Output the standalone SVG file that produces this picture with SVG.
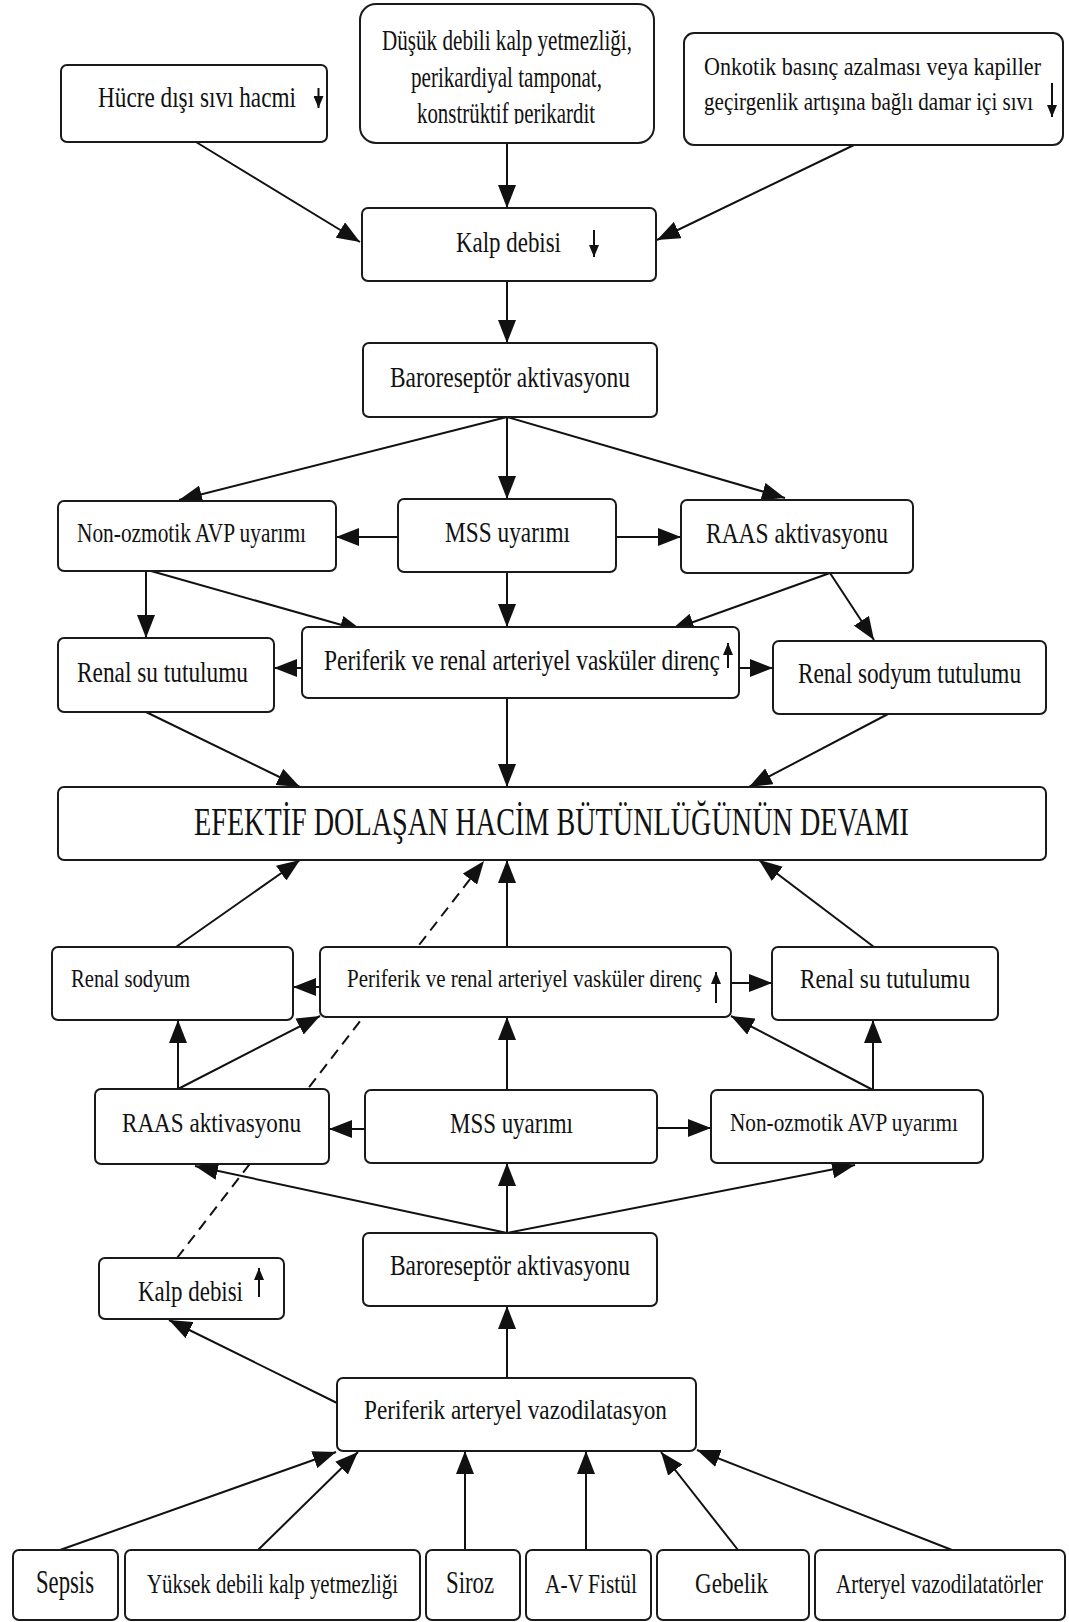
<svg xmlns="http://www.w3.org/2000/svg" width="1069" height="1622" viewBox="0 0 1069 1622">
<style>
.box{fill:#fff;stroke:#1a1a1a;stroke-width:2}
.t{font-family:"Liberation Serif","Times New Roman",serif;fill:#111}
.c{fill:none;stroke:#111;stroke-width:2;marker-end:url(#ah)}
.d{fill:none;stroke:#111;stroke-width:2;stroke-dasharray:11,7;marker-end:url(#ah)}
.s{fill:none;stroke:#111;stroke-width:2;marker-end:url(#sh)}
</style>
<defs>
<marker id="ah" markerUnits="userSpaceOnUse" markerWidth="24" markerHeight="18" refX="23" refY="9" orient="auto"><path d="M0,0 L23,9 L0,18 z" fill="#111"/></marker>
<marker id="sh" markerUnits="userSpaceOnUse" markerWidth="12" markerHeight="10" refX="12" refY="5" orient="auto"><path d="M0,0 L12,5 L0,10 z" fill="#111"/></marker>
<clipPath id="clipL3"><rect x="360" y="0" width="294" height="124"/></clipPath>
</defs>
<rect width="1069" height="1622" fill="#fff"/>
<g id="connectors">
<line class="c" x1="196" y1="142" x2="360" y2="242"/>
<line class="c" x1="507" y1="143" x2="507" y2="208"/>
<line class="c" x1="854" y1="145" x2="657" y2="240"/>
<line class="c" x1="507" y1="281" x2="507" y2="343"/>
<line class="c" x1="507" y1="417" x2="179" y2="500"/>
<line class="c" x1="507" y1="417" x2="507" y2="499"/>
<line class="c" x1="507" y1="417" x2="785" y2="498"/>
<line class="c" x1="398" y1="537" x2="336" y2="537"/>
<line class="c" x1="616" y1="537" x2="681" y2="537"/>
<line class="c" x1="146" y1="571" x2="146" y2="638"/>
<line class="c" x1="151" y1="571" x2="363" y2="631"/>
<line class="c" x1="507" y1="572" x2="507" y2="627"/>
<line class="c" x1="830" y1="573" x2="671" y2="630"/>
<line class="c" x1="830" y1="573" x2="874" y2="640"/>
<line class="c" x1="302" y1="668" x2="274" y2="668"/>
<line class="c" x1="739" y1="668" x2="773" y2="668"/>
<line class="c" x1="146" y1="712" x2="300" y2="787"/>
<line class="c" x1="507" y1="698" x2="507" y2="787"/>
<line class="c" x1="888" y1="714" x2="749" y2="787"/>
<line class="c" x1="176" y1="947" x2="300" y2="860"/>
<line class="c" x1="507" y1="947" x2="507" y2="860"/>
<line class="c" x1="874" y1="947" x2="759" y2="860"/>
<line class="d" x1="177" y1="1258" x2="484" y2="861"/>
<line class="c" x1="320" y1="987" x2="293" y2="987"/>
<line class="c" x1="731" y1="983" x2="772" y2="983"/>
<line class="c" x1="178" y1="1089" x2="178" y2="1020"/>
<line class="c" x1="178" y1="1089" x2="320" y2="1016"/>
<line class="c" x1="365" y1="1129" x2="329" y2="1129"/>
<line class="c" x1="507" y1="1090" x2="507" y2="1017"/>
<line class="c" x1="657" y1="1128" x2="711" y2="1128"/>
<line class="c" x1="873" y1="1090" x2="873" y2="1020"/>
<line class="c" x1="873" y1="1090" x2="731" y2="1016"/>
<line class="c" x1="507" y1="1233" x2="195" y2="1166"/>
<line class="c" x1="507" y1="1233" x2="507" y2="1163"/>
<line class="c" x1="507" y1="1233" x2="855" y2="1165"/>
<line class="c" x1="507" y1="1378" x2="507" y2="1306"/>
<line class="c" x1="337" y1="1403" x2="169" y2="1320"/>
<line class="c" x1="60" y1="1550" x2="336" y2="1452"/>
<line class="c" x1="258" y1="1550" x2="358" y2="1452"/>
<line class="c" x1="465" y1="1550" x2="465" y2="1451"/>
<line class="c" x1="586" y1="1550" x2="586" y2="1451"/>
<line class="c" x1="738" y1="1550" x2="661" y2="1452"/>
<line class="c" x1="952" y1="1550" x2="697" y2="1450"/>
</g>
<g id="n-hucre"><rect class="box" x="61" y="65" width="266" height="77" rx="6"/><text class="t" x="98" y="107" font-size="23.2" transform="matrix(1 0 0 1.293 0 -31.35)" textLength="198" lengthAdjust="spacingAndGlyphs">Hücre dışı sıvı hacmi</text><line class="s" x1="318.5" y1="88" x2="318.5" y2="108"/></g>
<g id="n-dusuk"><rect class="box" x="360" y="4" width="294" height="139" rx="16"/><text class="t" x="382" y="50" font-size="21" transform="matrix(1 0 0 1.381 0 -19.05)" textLength="250" lengthAdjust="spacingAndGlyphs">Düşük debili kalp yetmezliği,</text><text class="t" x="411" y="87" font-size="21" transform="matrix(1 0 0 1.381 0 -33.15)" textLength="191" lengthAdjust="spacingAndGlyphs">perikardiyal tamponat,</text><g clip-path="url(#clipL3)"><text class="t" x="417" y="123" font-size="21" transform="matrix(1 0 0 1.381 0 -46.86)" textLength="178" lengthAdjust="spacingAndGlyphs">konstrüktif perikardit</text></g></g>
<g id="n-onkotik"><rect class="box" x="684" y="33" width="379" height="112" rx="10"/><text class="t" x="704" y="75" font-size="21.5" transform="matrix(1 0 0 1.163 0 -12.23)" textLength="337" lengthAdjust="spacingAndGlyphs">Onkotik basınç azalması veya kapiller</text><text class="t" x="704" y="110" font-size="21.5" transform="matrix(1 0 0 1.163 0 -17.93)" textLength="329" lengthAdjust="spacingAndGlyphs">geçirgenlik artışına bağlı damar içi sıvı</text><line class="s" x1="1052" y1="83" x2="1052" y2="117"/></g>
<g id="n-kalp1"><rect class="box" x="362" y="208" width="294" height="73" rx="6"/><text class="t" x="456" y="252" font-size="22.9" transform="matrix(1 0 0 1.266 0 -67.03)" textLength="105" lengthAdjust="spacingAndGlyphs">Kalp debisi</text><line class="s" x1="594" y1="230" x2="594" y2="257"/></g>
<g id="n-baro1"><rect class="box" x="363" y="343" width="294" height="74" rx="6"/><text class="t" x="390" y="387" font-size="23.4" transform="matrix(1 0 0 1.282 0 -109.13)" textLength="240" lengthAdjust="spacingAndGlyphs">Baroreseptör aktivasyonu</text></g>
<g id="n-avp1"><rect class="box" x="58" y="501" width="278" height="70" rx="6"/><text class="t" x="77" y="542" font-size="20.9" transform="matrix(1 0 0 1.34 0 -184.28)" textLength="229" lengthAdjust="spacingAndGlyphs">Non-ozmotik AVP uyarımı</text></g>
<g id="n-mss1"><rect class="box" x="398" y="499" width="218" height="73" rx="6"/><text class="t" x="445" y="542" font-size="23.3" transform="matrix(1 0 0 1.287 0 -155.55)" textLength="125" lengthAdjust="spacingAndGlyphs">MSS uyarımı</text></g>
<g id="n-raas1"><rect class="box" x="681" y="500" width="232" height="73" rx="6"/><text class="t" x="706" y="543" font-size="23.5" transform="matrix(1 0 0 1.234 0 -127.06)" textLength="182" lengthAdjust="spacingAndGlyphs">RAAS aktivasyonu</text></g>
<g id="n-renalsu1"><rect class="box" x="58" y="638" width="216" height="74" rx="6"/><text class="t" x="77" y="682" font-size="23.3" transform="matrix(1 0 0 1.287 0 -195.73)" textLength="171" lengthAdjust="spacingAndGlyphs">Renal su tutulumu</text></g>
<g id="n-periferik1"><rect class="box" x="302" y="627" width="437" height="71" rx="6"/><text class="t" x="324" y="670" font-size="23.4" transform="matrix(1 0 0 1.282 0 -188.94)" textLength="396" lengthAdjust="spacingAndGlyphs">Periferik ve renal arteriyel vasküler direnç</text><line class="s" x1="728" y1="668" x2="728" y2="643"/></g>
<g id="n-renalsod1"><rect class="box" x="773" y="641" width="273" height="73" rx="6"/><text class="t" x="798" y="683" font-size="23.2" transform="matrix(1 0 0 1.293 0 -200.12)" textLength="223" lengthAdjust="spacingAndGlyphs">Renal sodyum tutulumu</text></g>
<g id="n-efektif"><rect class="box" x="58" y="787" width="988" height="73" rx="6"/><text class="t" x="194" y="835" font-size="28" transform="matrix(1 0 0 1.393 0 -328.16)" textLength="715" lengthAdjust="spacingAndGlyphs">EFEKTİF DOLAŞAN HACİM BÜTÜNLÜĞÜNÜN DEVAMI</text></g>
<g id="n-renalsod2"><rect class="box" x="52" y="947" width="241" height="73" rx="6"/><text class="t" x="71" y="987" font-size="20.7" transform="matrix(1 0 0 1.256 0 -252.67)" textLength="119" lengthAdjust="spacingAndGlyphs">Renal sodyum</text></g>
<g id="n-periferik2"><rect class="box" x="320" y="947" width="411" height="70" rx="6"/><text class="t" x="347" y="987" font-size="21" transform="matrix(1 0 0 1.238 0 -234.91)" textLength="355" lengthAdjust="spacingAndGlyphs">Periferik ve renal arteriyel vasküler direnç</text><line class="s" x1="716" y1="1003" x2="716" y2="972"/></g>
<g id="n-renalsu2"><rect class="box" x="772" y="947" width="226" height="73" rx="6"/><text class="t" x="800" y="988" font-size="23.2" transform="matrix(1 0 0 1.207 0 -204.52)" textLength="170" lengthAdjust="spacingAndGlyphs">Renal su tutulumu</text></g>
<g id="n-raas2"><rect class="box" x="95" y="1089" width="234" height="75" rx="6"/><text class="t" x="122" y="1132" font-size="23.1" transform="matrix(1 0 0 1.212 0 -239.98)" textLength="179" lengthAdjust="spacingAndGlyphs">RAAS aktivasyonu</text></g>
<g id="n-mss2"><rect class="box" x="365" y="1090" width="292" height="73" rx="6"/><text class="t" x="450" y="1133" font-size="22.9" transform="matrix(1 0 0 1.31 0 -351.23)" textLength="123" lengthAdjust="spacingAndGlyphs">MSS uyarımı</text></g>
<g id="n-avp2"><rect class="box" x="711" y="1090" width="272" height="73" rx="6"/><text class="t" x="730" y="1131" font-size="20.8" transform="matrix(1 0 0 1.25 0 -282.75)" textLength="228" lengthAdjust="spacingAndGlyphs">Non-ozmotik AVP uyarımı</text></g>
<g id="n-baro2"><rect class="box" x="363" y="1233" width="294" height="73" rx="6"/><text class="t" x="390" y="1275" font-size="23.4" transform="matrix(1 0 0 1.282 0 -359.55)" textLength="240" lengthAdjust="spacingAndGlyphs">Baroreseptör aktivasyonu</text></g>
<g id="n-kalp2"><rect class="box" x="99" y="1258" width="185" height="61" rx="6"/><text class="t" x="138" y="1301" font-size="22.9" transform="matrix(1 0 0 1.31 0 -403.31)" textLength="105" lengthAdjust="spacingAndGlyphs">Kalp debisi</text><line class="s" x1="259" y1="1297" x2="259" y2="1268"/></g>
<g id="n-vazodilatasyon"><rect class="box" x="337" y="1378" width="359" height="73" rx="6"/><text class="t" x="364" y="1419" font-size="23.2" transform="matrix(1 0 0 1.164 0 -232.72)" textLength="303" lengthAdjust="spacingAndGlyphs">Periferik arteryel vazodilatasyon</text></g>
<g id="n-sepsis"><rect class="box" x="13" y="1550" width="105" height="70" rx="6"/><text class="t" x="36" y="1593" font-size="22.7" transform="matrix(1 0 0 1.454 0 -723.22)" textLength="58" lengthAdjust="spacingAndGlyphs">Sepsis</text></g>
<g id="n-yuksek"><rect class="box" x="125" y="1550" width="295" height="70" rx="6"/><text class="t" x="147" y="1593" font-size="20.9" transform="matrix(1 0 0 1.292 0 -465.16)" textLength="251" lengthAdjust="spacingAndGlyphs">Yüksek debili kalp yetmezliği</text></g>
<g id="n-siroz"><rect class="box" x="426" y="1550" width="94" height="70" rx="6"/><text class="t" x="446" y="1593" font-size="22.7" transform="matrix(1 0 0 1.41 0 -653.13)" textLength="48" lengthAdjust="spacingAndGlyphs">Siroz</text></g>
<g id="n-avfistul"><rect class="box" x="526" y="1550" width="125" height="70" rx="6"/><text class="t" x="545" y="1593" font-size="21.4" transform="matrix(1 0 0 1.31 0 -493.83)" textLength="92" lengthAdjust="spacingAndGlyphs">A-V Fistül</text></g>
<g id="n-gebelik"><rect class="box" x="657" y="1550" width="152" height="70" rx="6"/><text class="t" x="695" y="1593" font-size="23.1" transform="matrix(1 0 0 1.30 0 -477.9)" textLength="73" lengthAdjust="spacingAndGlyphs">Gebelik</text></g>
<g id="n-arteryel"><rect class="box" x="815" y="1550" width="250" height="70" rx="6"/><text class="t" x="836" y="1593" font-size="21" transform="matrix(1 0 0 1.333 0 -530.47)" textLength="207" lengthAdjust="spacingAndGlyphs">Arteryel vazodilatatörler</text></g>
</svg>
